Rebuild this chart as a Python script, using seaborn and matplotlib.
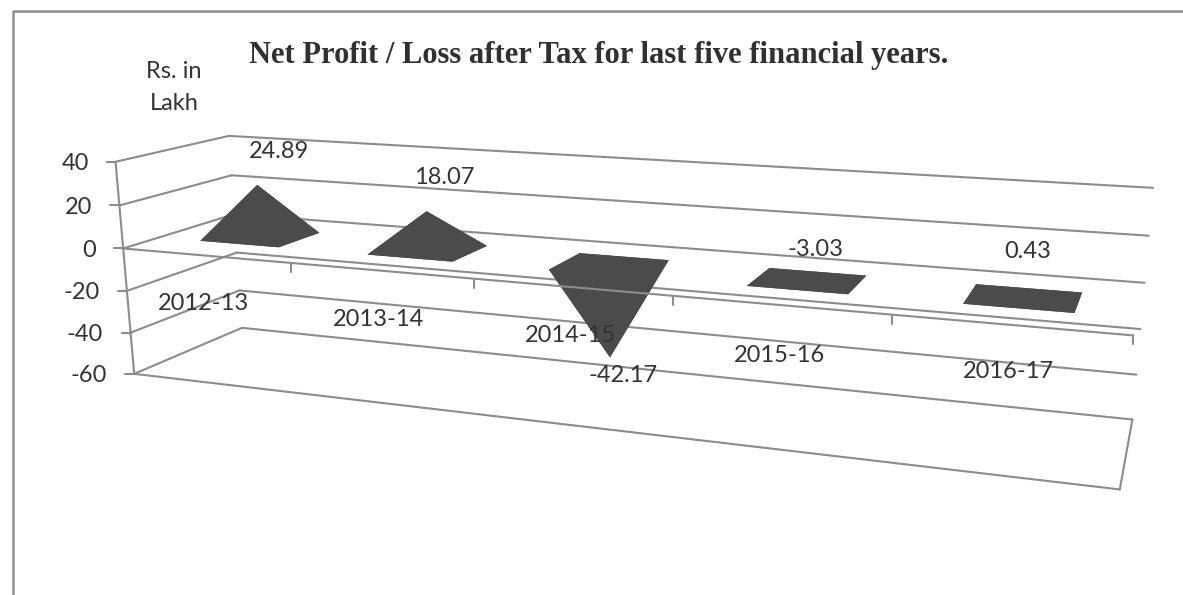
import matplotlib
matplotlib.use('Agg')
import matplotlib.pyplot as plt
import numpy as np
import pandas as pd
import seaborn as sns

years = ['2012-13', '2013-14', '2014-15', '2015-16', '2016-17']
profit = [24.89, 18.07, -42.17, -3.03, 0.43]
y_ticks = [40, 20, 0, -20, -40, -60]
y_tick_labels = ['40', '20', '0', '-20', '-40', '-60']

W, H = 1183, 595
GRAY = '#8c8c8c'
DARK = '#4b4b4b'
TEXT = '#333333'

sns.set_theme(style='white', font='Lato', rc={'axes.unicode_minus': False})
plt.rcParams['font.family'] = ['Lato', 'DejaVu Sans']

# the 3d box: (category, value, depth) -> where its corner lands in the image
# depth 0 is the front of the box, 1 the back wall
box = [
    ((0, 40, 0), (116, 162)),
    ((0, -60, 0), (134, 374)),
    ((0, 40, 1), (228, 136)),
    ((0, -60, 1), (242, 328)),
    ((5, 40, 1), (1153, 188)),
    ((5, -60, 1), (1132, 419)),
    ((5, -60, 0), (1120, 490)),
    ((5, 0, 0), (1133, 335)),
    ((0, 0, 0), (123, 248)),
    ((5, 0, 1), (1145, 283)),
    ((0, 0, 1), (235, 214)),
]
A = []
b = []
for (u, v, d), (px, py) in box:
    A.append([u, v, d, 1, 0, 0, 0, 0, -px * u, -px * v, -px * d])
    A.append([0, 0, 0, 0, u, v, d, 1, -py * u, -py * v, -py * d])
    b += [px, py]
cam = np.linalg.lstsq(np.array(A, float), np.array(b, float), rcond=None)[0]
cam = np.append(cam, 1).reshape(3, 4)


def project(u, v, d):
    x, y, w = cam @ np.array([u, v, d, 1.0])
    return x / w, y / w


fig = plt.figure(figsize=(W / 100, H / 100), dpi=100)
ax = fig.add_axes([0, 0, 1, 1])
ax.set_xlim(0, W)
ax.set_ylim(H, 0)
ax.axis('off')

# outer frame of the scanned chart
frame = pd.DataFrame({'x': [13, 13, W], 'y': [H, 11, 11]})
sns.lineplot(frame, x='x', y='y', sort=False, estimator=None, color='#8f8f8f', lw=1.8, ax=ax, zorder=1)

segments = []


def add(p, q):
    n = len(segments)
    segments.append({'x': p[0], 'y': p[1], 'seg': n})
    segments.append({'x': q[0], 'y': q[1], 'seg': n})


for val in y_ticks:
    add(project(0, val, 0), project(0, val, 1))
    add(project(0, val, 1), project(5, val, 1))
    fx, fy = project(0, val, 0)
    add((fx - 9, fy), (fx, fy))
add(project(0, 40, 0), project(0, -60, 0))
add(project(0, -60, 0), project(5, -60, 0))
add(project(5, -60, 0), project(5, -60, 1))
sns.lineplot(pd.DataFrame(segments), x='x', y='y', units='seg', sort=False, estimator=None,
             color=GRAY, lw=1.5, ax=ax, zorder=2)

# pyramids sit on the zero plane
hw, hd = 0.24, 0.2
for i, val in enumerate(profit):
    c = i + 0.5
    base = [(c - hw, 0.5 - hd), (c + hw, 0.5 - hd), (c + hw, 0.5 + hd), (c - hw, 0.5 + hd)]
    apex = project(c, val, 0.5)
    pts = [project(u, 0, d) for u, d in base]
    ax.fill([p[0] for p in pts], [p[1] for p in pts], color=DARK, lw=0, zorder=3)
    for j in range(4):
        p, q = pts[j], pts[(j + 1) % 4]
        ax.fill([p[0], q[0], apex[0]], [p[1], q[1], apex[1]], color=DARK, lw=0, zorder=3)

# category axis on the zero plane, in front of the pyramids
axis = []
axis.append({'x': project(0, 0, 0)[0], 'y': project(0, 0, 0)[1], 'seg': 0})
axis.append({'x': project(5, 0, 0)[0], 'y': project(5, 0, 0)[1], 'seg': 0})
for i in range(1, 6):
    tx, ty = project(i, 0, 0)
    axis.append({'x': tx, 'y': ty, 'seg': i})
    axis.append({'x': tx, 'y': ty + 9, 'seg': i})
sns.lineplot(pd.DataFrame(axis), x='x', y='y', units='seg', sort=False, estimator=None,
             color=GRAY, lw=1.5, ax=ax, zorder=4)

# text
fs = 17
tick_right = [89, 92, 96, 100, 103, 107]
for lab, val, rx in zip(y_tick_labels, y_ticks, tick_right):
    ax.text(rx, project(0, val, 0)[1] + 2, lab, ha='right', va='center', fontsize=fs, color=TEXT, zorder=6)

year_xy = [(204, 304), (379, 319), (570, 336), (780, 356), (1008, 372)]
for lab, (x, y) in zip(years, year_xy):
    ax.text(x, y, lab, ha='center', va='center', fontsize=fs, color=TEXT, zorder=6)

value_xy = [(279, 151), (444, 177), (623, 375), (816, 250), (1028, 252)]
for val, (x, y) in zip(profit, value_xy):
    ax.text(x, y, f'{val:.2f}', ha='center', va='center', fontsize=fs, color=TEXT, zorder=6)

ax.text(174, 72, 'Rs. in', ha='center', va='center', fontsize=fs, color=TEXT, zorder=6)
ax.text(174, 104, 'Lakh', ha='center', va='center', fontsize=fs, color=TEXT, zorder=6)
ax.text(599, 55, 'Net Profit / Loss after Tax for last five financial years.', ha='center', va='center',
        fontsize=22, fontweight='bold', family=['Liberation Serif', 'DejaVu Serif'], color='#303030', zorder=6)

fig.savefig('out.png', dpi=100)
